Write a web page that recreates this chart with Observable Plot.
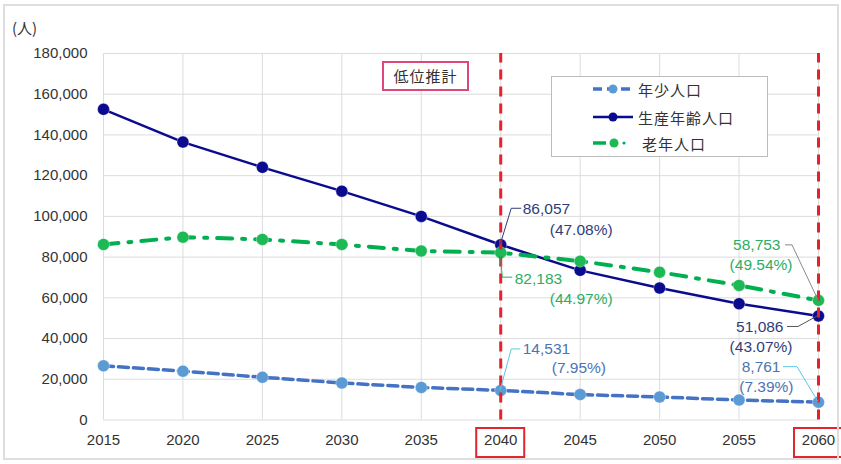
<!DOCTYPE html>
<html><head><meta charset="utf-8">
<script src="https://cdn.jsdelivr.net/npm/d3@7"></script>
<script src="https://cdn.jsdelivr.net/npm/@observablehq/plot@0.6"></script>
<style>
body{margin:0;background:#fff;}
#wrap{position:relative;width:841px;height:464px;font-family:"Liberation Sans",Arial,sans-serif;color:#333;overflow:hidden;}
#frame{position:absolute;left:3px;top:4px;width:836px;height:456px;border:2px solid #dedede;box-sizing:border-box;pointer-events:none;}
#unit{position:absolute;left:12px;top:17px;font-size:15px;font-family:"Noto Sans CJK JP","Liberation Sans",sans-serif;}
#scen{position:absolute;left:382px;top:61px;width:87px;height:30px;box-sizing:border-box;border:2px solid #e0457b;background:#fff;font-size:15px;line-height:26px;text-align:center;font-family:"Noto Sans CJK JP",sans-serif;letter-spacing:1px;}
#legend{position:absolute;left:551px;top:76px;width:217px;height:81px;box-sizing:border-box;border:1px solid #bcbcbc;background:#fff;font-family:"Noto Sans CJK JP",sans-serif;font-size:15px;}
#legend .row{position:absolute;left:40px;height:20px;display:flex;align-items:center;}
#legend .row span{margin-left:4px;letter-spacing:1px;}
svg{display:block;}
</style></head><body>
<div id="wrap"></div>
<script>
const years = [2015, 2020, 2025, 2030, 2035, 2040, 2045, 2050, 2055, 2060];
const seriesNames = ["年少人口", "生産年齢人口", "老年人口"];
const youth   = [26600, 24000, 21000, 18200, 16000, 14531, 12500, 11300, 9800, 8761];
const working = [152600, 136500, 124100, 112400, 100000, 86057, 73500, 64800, 57100, 51086];
const elderly = [86200, 89800, 88700, 86200, 83000, 82183, 78000, 72600, 66100, 58753];
const yTicks = [0, 20000, 40000, 60000, 80000, 100000, 120000, 140000, 160000, 180000];
const highlightYears = [2040, 2060];
const unitLabel = "(人)";
const scenarioLabel = "低位推計";
// annotated points: series index, year, share of total
const noteSeries = [1, 2, 0, 2, 1, 0];
const noteYears  = [2040, 2040, 2040, 2060, 2060, 2060];
const notePcts   = ["(47.08%)", "(44.97%)", "(7.95%)", "(49.54%)", "(43.07%)", "(7.39%)"];

const seriesValues = [youth, working, elderly];
const rows = seriesNames.flatMap((s, i) => years.map((yr, j) => ({series: s, year: yr, value: seriesValues[i][j]})));

// styles
const styles = [
  {line: "#4472c4", dot: "#5b9bd5", width: 3.5, dash: "10,5", text: "#4a74b4", leader: "#5bc8e0"},
  {line: "#0b0b8f", dot: "#0b0b8f", width: 2.5, dash: null, text: "#2f3d7c", leader: "#2f3d7c"},
  {line: "#00b050", dot: "#1db954", width: 4, dash: "15,10,3,10", text: "#2aae62", leader: "#2aae62"}
];
// label layout offsets (pixels, relative to the annotated point)
const noteLayout = [
  {anchor: "start", d1: [22, -36], d2: [49, -15], leader: [[0, 0], [11, -36], [21, -36]], lc: "#2f3d7c"},
  {anchor: "start", d1: [14, 26], d2: [49, 46], leader: [[0, 0], [2, 25], [12, 25]], lc: "#2aae62"},
  {anchor: "start", d1: [22, -41], d2: [51, -22], leader: [[0, 0], [11, -41], [20, -41]], lc: "#5bc8e0"},
  {anchor: "end", d1: [-38, -55], d2: [-26, -35], leader: [[-33, -55], [-26, -55], [0, 0]], lc: "#8a8a8a"},
  {anchor: "end", d1: [-35, 11], d2: [-26, 31], leader: [[-31, 11], [-20, 11], [0, 0]], lc: "#555"},
  {anchor: "end", d1: [-38, -35], d2: [-25, -15], leader: [[-35, -35], [-21, -35], [0, 0]], lc: "#5bc8e0"}
];

const notes = noteSeries.map((si, k) => {
  const j = years.indexOf(noteYears[k]);
  const v = seriesValues[si][j];
  return {si, year: noteYears[k], value: v, label: d3.format(",")(v), pct: notePcts[k]};
});

const marks = [
  Plot.gridX(years, {stroke: "#dcdcdc", strokeOpacity: 1}),
  Plot.gridY(yTicks, {stroke: "#dcdcdc", strokeOpacity: 1})
];
seriesNames.forEach((s, i) => {
  const data = rows.filter(d => d.series === s);
  marks.push(Plot.line(data, {x: "year", y: "value", stroke: styles[i].line, strokeWidth: styles[i].width, strokeDasharray: styles[i].dash || undefined}));
});
seriesNames.forEach((s, i) => {
  const data = rows.filter(d => d.series === s);
  marks.push(Plot.dot(data, {x: "year", y: "value", r: 6, fill: styles[i].dot, stroke: "#ffffff", strokeOpacity: 0.35, strokeWidth: 1}));
});
marks.push(Plot.ruleX(highlightYears, {y1: 0, y2: 180000, stroke: "#e8202a", strokeWidth: 3, strokeDasharray: "10,7"}));
notes.forEach((n, k) => {
  const L = noteLayout[k];
  marks.push(Plot.text([n], {x: "year", y: "value", text: "label", dx: L.d1[0], dy: L.d1[1], textAnchor: L.anchor, fill: styles[n.si].text, fontSize: 15.5}));
  marks.push(Plot.text([n], {x: "year", y: "value", text: "pct", dx: L.d2[0], dy: L.d2[1], textAnchor: L.anchor, fill: styles[n.si].text, fontSize: 15.5}));
});
marks.push((index, scales, values, dimensions) => {
  const g = d3.create("svg:g");
  const {x, y} = scales;
  notes.forEach((n, k) => {
    const L = noteLayout[k];
    const px = x(n.year), py = y(n.value);
    g.append("path").attr("d", d3.line()(L.leader.map(([a, b]) => [px + a, py + b])))
      .attr("fill", "none").attr("stroke", L.lc).attr("stroke-width", 1);
  });
  const base = dimensions.height - dimensions.marginBottom;
  highlightYears.forEach(yr => {
    g.append("rect").attr("x", x(yr) - 24).attr("y", base + 8.5).attr("width", 48).attr("height", 29)
      .attr("fill", "none").attr("stroke", "#e0262e").attr("stroke-width", 2);
  });
  return g.node();
});

const chart = Plot.plot({
  width: 841,
  height: 464,
  marginLeft: 103,
  marginRight: 23,
  marginTop: 53,
  marginBottom: 44.5,
  style: {fontSize: "15px", fontFamily: "'Liberation Sans', Arial, sans-serif", color: "#333", background: "transparent"},
  x: {domain: [2015, 2060], ticks: years, tickFormat: d => String(d), tickSize: 0, tickPadding: 14, label: null},
  y: {domain: [0, 180000], ticks: yTicks, tickFormat: d3.format(","), tickSize: 0, tickPadding: 16, label: null},
  marks
});

const wrap = document.getElementById("wrap");
wrap.appendChild(chart);

const unit = document.createElement("div");
unit.id = "unit"; unit.textContent = unitLabel; wrap.appendChild(unit);

const scen = document.createElement("div");
scen.id = "scen"; scen.textContent = scenarioLabel; wrap.appendChild(scen);

const legend = document.createElement("div");
legend.id = "legend";
const sampleSvg = (i) => {
  const st = styles[i];
  let inner = "";
  if (i === 2) {
    inner = `<line x1="1" y1="10" x2="14" y2="10" stroke="${st.line}" stroke-width="3.5"/>
             <circle cx="22" cy="10" r="4.5" fill="${st.dot}"/>
             <circle cx="32" cy="10" r="1.6" fill="${st.line}"/>`;
  } else {
    inner = `<line x1="1" y1="10" x2="41" y2="10" stroke="${st.line}" stroke-width="${i === 0 ? 3.5 : 2.5}" ${st.dash ? `stroke-dasharray="9,5"` : ""}/>
             <circle cx="21" cy="10" r="4.5" fill="${st.dot}"/>`;
  }
  return `<svg width="42" height="20">${inner}</svg>`;
};
const legendTops = [2, 30, 56];
seriesNames.forEach((s, i) => {
  const row = document.createElement("div");
  row.className = "row";
  row.style.top = legendTops[i] + "px";
  row.innerHTML = sampleSvg(i) + `<span style="${i === 2 ? 'margin-left:8px' : ''}">${s}</span>`;
  legend.appendChild(row);
});
wrap.appendChild(legend);

const frame = document.createElement("div");
frame.id = "frame"; wrap.appendChild(frame);
</script>
</body></html>
